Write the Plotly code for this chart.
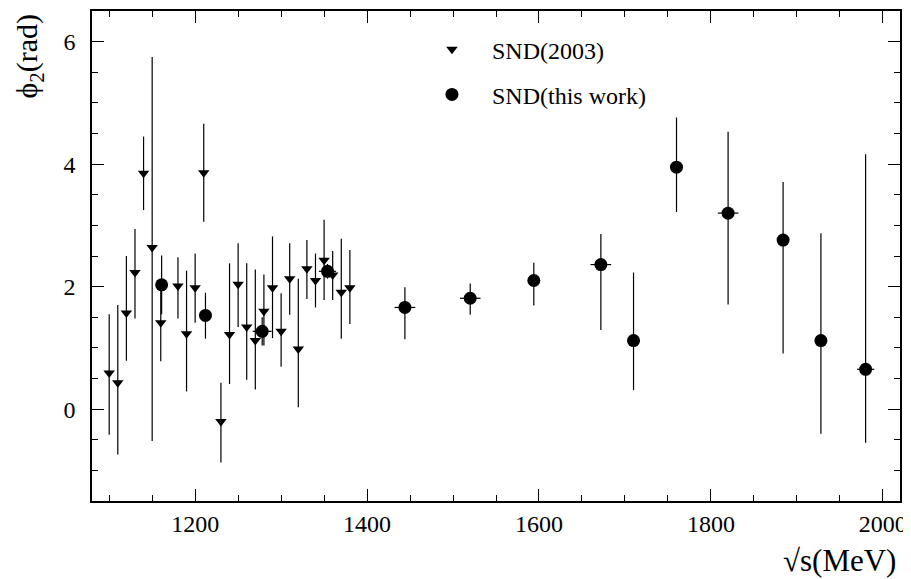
import plotly.graph_objects as go

# SND(2003) – triangles
snd03_x = [1100, 1110, 1120, 1130, 1140, 1150, 1160, 1180, 1190, 1200, 1210, 1230, 1240, 1250,
           1260, 1270, 1280, 1290, 1300, 1310, 1320, 1330, 1340, 1350, 1360, 1370, 1380]
snd03_y = [0.59, 0.43, 1.57, 2.23, 3.85, 2.64, 1.41, 2.01, 1.23, 1.98, 3.86, -0.20, 1.22, 2.04,
           1.34, 1.12, 1.60, 1.98, 1.27, 2.13, 0.98, 2.29, 2.10, 2.43, 2.19, 1.91, 1.98]
snd03_up = [0.96, 1.27, 0.93, 0.71, 0.60, 3.11, 0.59, 0.47, 1.03, 0.56, 0.80, 0.63, 1.16, 0.67,
            1.04, 1.16, 0.60, 0.84, 0.62, 0.58, 1.15, 0.47, 0.44, 0.66, 0.39, 0.87, 0.62]
snd03_dn = [1.01, 1.17, 0.78, 0.75, 0.60, 3.16, 0.63, 0.53, 0.94, 0.57, 0.80, 0.67, 0.81, 0.70,
            0.86, 0.80, 0.56, 0.82, 0.58, 0.59, 0.95, 0.49, 0.44, 0.65, 0.41, 0.76, 0.59]

# SND(this work) – circles
snd_x = [1161, 1212, 1278, 1354, 1444, 1520, 1594, 1672, 1710, 1760, 1820, 1884, 1928, 1980]
snd_y = [2.03, 1.53, 1.27, 2.25, 1.66, 1.81, 2.10, 2.36, 1.12, 3.95, 3.20, 2.76, 1.12, 0.65]
snd_up = [0.48, 0.37, 0.23, 0.12, 0.33, 0.24, 0.29, 0.50, 1.11, 0.81, 1.33, 0.95, 1.75, 3.51]
snd_dn = [0.48, 0.38, 0.23, 0.12, 0.52, 0.27, 0.41, 1.07, 0.81, 0.73, 1.49, 1.85, 1.52, 1.20]
snd_ex = [5, 5, 11, 10, 12, 12, 5, 12, 5, 5, 12, 5, 5, 10]

x_tickvals = [1200, 1400, 1600, 1800, 2000]
y_tickvals = [0, 2, 4, 6]

FONT = "Liberation Serif, Times New Roman, serif"

fig = go.Figure()
fig.add_trace(go.Scatter(
    x=snd03_x, y=snd03_y, mode="markers", name="SND(2003)", legendgroup="a",
    marker=dict(symbol="triangle-down", size=10, color="black"),
    error_y=dict(type="data", symmetric=False, array=snd03_up, arrayminus=snd03_dn,
                 width=0, thickness=1.2, color="black"),
))
fig.add_trace(go.Scatter(
    x=snd_x, y=snd_y, mode="markers", name="SND(this work)", legendgroup="b",
    marker=dict(symbol="circle", size=13, color="black"),
    error_y=dict(type="data", symmetric=False, array=snd_up, arrayminus=snd_dn,
                 width=0, thickness=1.2, color="black"),
    error_x=dict(type="data", array=snd_ex, width=0, thickness=1.2, color="black"),
))

axis_common = dict(
    showline=True, linecolor="black", linewidth=1.5, mirror="allticks",
    ticks="inside", ticklen=12, tickwidth=1, tickcolor="black",
    showgrid=False, zeroline=False,
    tickfont=dict(family=FONT, size=24, color="black"),
)

fig.update_xaxes(range=[1080, 2020], tickvals=x_tickvals,
                 minor=dict(dtick=50, tick0=1000, ticks="inside", ticklen=6, tickcolor="black"),
                 **axis_common)
fig.update_yaxes(range=[-1.5, 6.5], tickvals=y_tickvals, ticklabelstandoff=10,
                 minor=dict(dtick=0.5, tick0=0, ticks="inside", ticklen=6, tickcolor="black"),
                 **axis_common)

fig.update_layout(
    width=903, height=571,
    margin=dict(l=84, r=11, t=1, b=78),
    plot_bgcolor="white", paper_bgcolor="white",
    font=dict(family=FONT, color="black"),
    showlegend=True,
    legend=dict(x=0.396, y=0.967, xanchor="left", yanchor="top",
                font=dict(family=FONT, size=24, color="black"),
                bgcolor="rgba(0,0,0,0)", borderwidth=0,
                itemwidth=70, tracegroupgap=11, traceorder="grouped"),
    annotations=[
        dict(text="ϕ<sub>2</sub>(rad)", xref="paper", yref="paper", x=-0.078, y=1.0,
             xanchor="center", yanchor="top", textangle=-90, showarrow=False,
             font=dict(family=FONT, size=30, color="black")),
        dict(text="√s(MeV)", xref="paper", yref="paper", x=0.997, y=-0.1207,
             xanchor="right", yanchor="middle", showarrow=False,
             font=dict(family=FONT, size=31, color="black")),
    ],
)

fig.write_html("out.html")
